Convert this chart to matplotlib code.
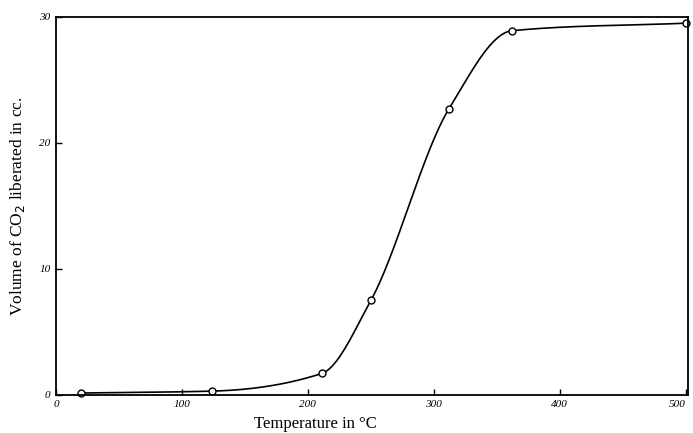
import numpy as np
import matplotlib
matplotlib.use("Agg")
import matplotlib.pyplot as plt

temperature = [20, 124, 211, 250, 312, 362, 500]
volume = [0.15, 0.3, 1.7, 7.5, 22.7, 28.9, 29.5]
xticks = [0, 100, 200, 300, 400, 500]
yticks = [0, 10, 20, 30]


def pchip(x, y, xs):
    x = np.asarray(x, float); y = np.asarray(y, float)
    h = np.diff(x); d = np.diff(y) / h
    m = np.zeros_like(y)
    for k in range(1, len(x) - 1):
        if d[k - 1] * d[k] > 0:
            w1 = 2 * h[k] + h[k - 1]; w2 = h[k] + 2 * h[k - 1]
            m[k] = (w1 + w2) / (w1 / d[k - 1] + w2 / d[k])
    m[0] = d[0]; m[-1] = d[-1]
    out = np.empty_like(xs)
    for i, xv in enumerate(xs):
        k = min(max(np.searchsorted(x, xv) - 1, 0), len(x) - 2)
        t = (xv - x[k]) / h[k]
        h00 = 2*t**3 - 3*t**2 + 1; h10 = t**3 - 2*t**2 + t
        h01 = -2*t**3 + 3*t**2; h11 = t**3 - t**2
        out[i] = h00*y[k] + h10*h[k]*m[k] + h01*y[k+1] + h11*h[k]*m[k+1]
    return out


fig = plt.figure(figsize=(6.93, 4.33), dpi=100)
ax = fig.add_axes([0.081, 0.088, 0.912, 0.873])
xs = np.linspace(temperature[0], temperature[-1], 400)
ax.plot(xs, pchip(temperature, volume, xs), color="black", lw=1.2)
ax.plot(temperature, volume, "o", mfc="white", mec="black", ms=5, mew=1.0, clip_on=False)
ax.set_xlim(0, 502)
ax.set_ylim(0, 30)
ax.set_xticks(xticks)
ax.set_yticks(yticks)
ax.set_xticklabels([str(v) for v in xticks], fontstyle="italic", family="Liberation Serif", fontsize=8)
ax.set_yticklabels([str(v) for v in yticks], fontstyle="italic", family="Liberation Serif", fontsize=8)
ax.get_xticklabels()[-1].set_horizontalalignment("right")
ax.get_xticklabels()[-1].set_x(506)
ax.tick_params(direction="in", length=4, width=1, pad=4)
for s in ax.spines.values():
    s.set_linewidth(1.3)
ax.set_xlabel("Temperature in °C", family="Liberation Serif", fontsize=12, labelpad=5)
ax.xaxis.set_label_coords(0.41, -0.055, transform=ax.transAxes)
ax.xaxis.label.set_verticalalignment("top")
ax.set_ylabel("Volume of CO$_2$ liberated in cc.", family="Liberation Serif", fontsize=12.5, labelpad=9)
fig.savefig("out.png", dpi=100)
